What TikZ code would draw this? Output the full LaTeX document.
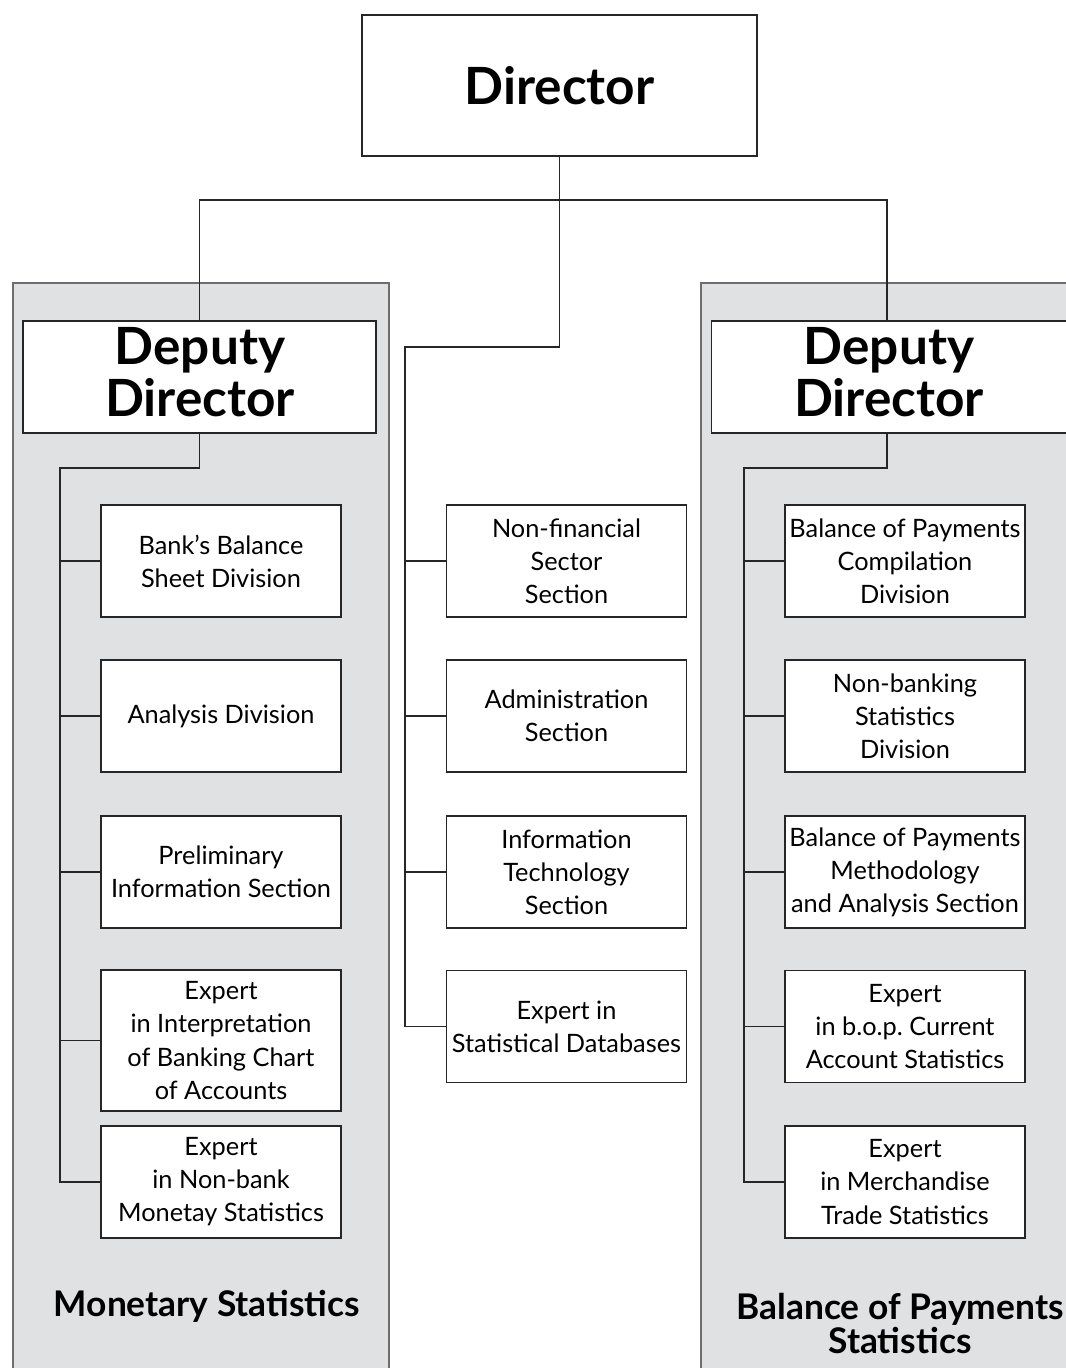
\documentclass[tikz,border=0pt]{standalone}
\usepackage{fontspec}
\setmainfont{Lato}
\frenchspacing
\begin{document}
\begin{tikzpicture}[x=0.75pt,y=-0.75pt,
  panel/.style={fill=panelgray,draw=framegray,line width=1.1pt},
  box/.style={draw=black!85,line width=1.1pt,fill=white,align=center,inner sep=0pt,
    minimum width=180pt,minimum height=84pt,font=\fontsize{19}{24.8}\selectfont},
  bigbox/.style={draw=black!85,line width=1.1pt,fill=white,inner sep=0pt},
  bigtext/.style={align=center,inner sep=0pt,font=\fontsize{38.5}{38.5}\selectfont\bfseries},
  conn/.style={draw=black!85,line width=1pt},
  title/.style={align=center,font=\fontsize{26.5}{25.5}\selectfont\bfseries}]
\definecolor{panelgray}{HTML}{E0E1E3}
\definecolor{framegray}{HTML}{6D6D6D}
\useasboundingbox (0,0) rectangle (1065,1368);
% panels
\path[panel] (13,1372) -- (13,283) -- (389,283) -- (389,1372);
\path[panel] (701,1372) -- (701,283) -- (1070,283) -- (1070,1372);
% nodes
\node[bigbox,minimum width=296.25pt,minimum height=105.75pt] (director) at (559.5,85.5) {};
\node[bigtext] (directorT) at (director.center) {Director};
\node[bigbox,minimum width=264.75pt,minimum height=84pt] (depL) at (199.5,377) {};
\node[bigtext] (depLT) at (200,372) {Deputy\\Director};
\node[bigbox,minimum width=266.25pt,minimum height=84pt,anchor=west] (depR) at (711,377) {};
\node[bigtext] (depRT) at (889,372) {Deputy\\Director};
\coordinate (bus) at (559.5,200);
\coordinate (mtop) at (405,347);
\coordinate (ltop) at (60,468);
\coordinate (rtop) at (744,468);
% left column
\node[box] (l1) at (221,561) {Bank's Balance\\Sheet Division};
\node[box] (l2) at (221,716) {Analysis Division};
\node[box] (l3) at (221,872) {Preliminary\\Information Section};
\node[box,minimum height=105.75pt] (l4) at (221,1040.5) {Expert\\in Interpretation\\of Banking Chart\\of Accounts};
\node[box] (l5) at (221,1182) {Expert\\in Non-bank\\Monetay Statistics};
% middle column
\node[box] (m1) at (566.5,561) {Non-financial\\Sector\\Section};
\node[box] (m2) at (566.5,716) {Administration\\Section};
\node[box] (m3) at (566.5,872) {Information\\Technology\\Section};
\node[box] (m4) at (566.5,1026.5) {Expert in\\Statistical Databases};
% right column
\node[box] (r1) at (905,561) {Balance of Payments\\Compilation\\Division};
\node[box] (r2) at (905,716) {Non-banking\\Statistics\\Division};
\node[box] (r3) at (905,872) {Balance of Payments\\Methodology\\and Analysis Section};
\node[box] (r4) at (905,1026.5) {Expert\\in b.o.p. Current\\Account Statistics};
\node[box] (r5) at (905,1182) {Expert\\in Merchandise\\Trade Statistics};
% titles
\node[title] (tL) at (207,1306) {Monetary Statistics};
\node[title] (tR) at (900,1323) {Balance of Payments\\Statistics};
% connectors
\draw[conn] (director.south) -- (bus);
\draw[conn] (bus) -| (depL.north);
\draw[conn] (bus) -| (depR.north -| 887,0);
\draw[conn] (bus) |- (mtop) -- (mtop |- m4.west) -- (m4.west);
\foreach \n in {m1,m2,m3} \draw[conn] (mtop |- \n.west) -- (\n.west);
\draw[conn] (depL.south) |- (ltop) -- (ltop |- l5.west) -- (l5.west);
\foreach \n in {l1,l2,l3,l4} \draw[conn] (ltop |- \n.west) -- (\n.west);
\draw[conn] (depR.south -| 887,0) |- (rtop) -- (rtop |- r5.west) -- (r5.west);
\foreach \n in {r1,r2,r3,r4} \draw[conn] (rtop |- \n.west) -- (\n.west);
\end{tikzpicture}
\end{document}
